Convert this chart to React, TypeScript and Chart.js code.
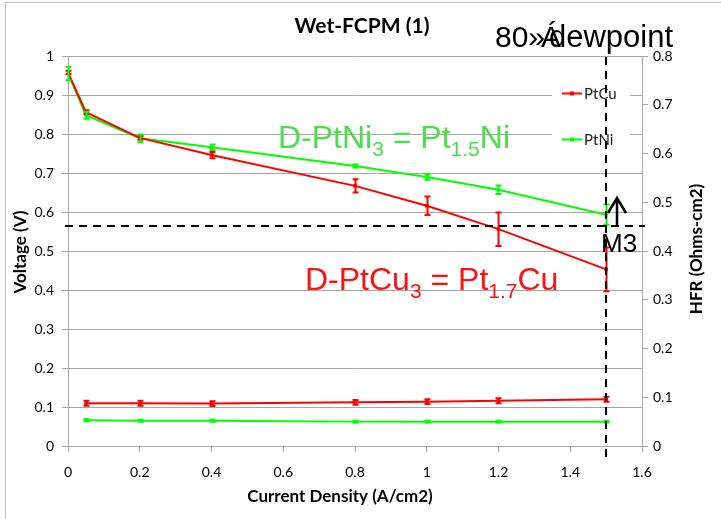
import React, { useEffect, useRef } from "react";
import { Chart, registerables } from "chart.js";
Chart.register(...registerables);

const W = 721;
const H = 519;

// Polarization data (Voltage, left axis)
const currentDensity = [0, 0.05, 0.2, 0.4, 0.8, 1.0, 1.2, 1.5];
const ptcuVoltage = [0.958, 0.856, 0.79, 0.746, 0.667, 0.616, 0.556, 0.453];
const ptcuVoltageErr = [0.004, 0.005, 0.005, 0.008, 0.017, 0.024, 0.043, 0.056];
const ptniVoltage = [0.955, 0.848, 0.789, 0.766, 0.718, 0.69, 0.657, 0.593];
const ptniVoltageErr = [0.017, 0.009, 0.01, 0.007, 0.004, 0.007, 0.011, 0.026];

// HFR data (right axis)
const hfrCurrent = [0.05, 0.2, 0.4, 0.8, 1.0, 1.2, 1.5];
const ptcuHfr = [0.0876, 0.0876, 0.087, 0.0895, 0.091, 0.0928, 0.0958];
const ptcuHfrErr = [0.005, 0.005, 0.005, 0.005, 0.005, 0.005, 0.005];
const ptniHfr = [0.053, 0.052, 0.052, 0.05, 0.05, 0.05, 0.05];
const ptniHfrErr = [0.002, 0.002, 0.002, 0.002, 0.002, 0.002, 0.002];

// Reference markers
const markerVoltage = 0.564;
const markerCurrent = 1.5;

const seriesNames = ["PtCu", "PtNi"];
const RED = "#ff0000";
const GREEN = "#00ff00";
const GRID = "#a6a6a6";

const CAL = "Lato, 'Open Sans', sans-serif";
const ARIAL = "'Liberation Sans', Arial, sans-serif";

function fmt(v: number) {
  return String(Math.round(v * 10) / 10);
}

function drawSubText(ctx: CanvasRenderingContext2D, parts: [string, boolean][], x: number, y: number, big: number, small: number, color: string) {
  ctx.save();
  ctx.fillStyle = color;
  ctx.textBaseline = "alphabetic";
  ctx.textAlign = "left";
  let cx = x;
  for (const [t, sub] of parts) {
    ctx.font = `${sub ? small : big}px ${ARIAL}`;
    ctx.fillText(t, cx, sub ? y + 8 : y);
    cx += ctx.measureText(t).width;
  }
  ctx.restore();
}

export default function App() {
  const ref = useRef<HTMLCanvasElement>(null);

  useEffect(() => {
    const canvas = ref.current!;
    const pts = (xs: number[], ys: number[]) => xs.map((x, i) => ({ x, y: ys[i] }));
    const errs = [ptcuVoltageErr, ptniVoltageErr, ptcuHfrErr, ptniHfrErr];

    const overlay = {
      id: "overlay",
      beforeDatasetsDraw(chart: any) {
        const ctx = chart.ctx as CanvasRenderingContext2D;
        ctx.save();
        // legend
        ctx.fillStyle = "#fff";
        ctx.fillRect(552, 80, 78, 72);
        const rows = [
          { name: seriesNames[0], color: RED, y: 93.5 },
          { name: seriesNames[1], color: GREEN, y: 139.5 },
        ];
        for (const r of rows) {
          ctx.strokeStyle = r.color;
          ctx.lineWidth = 2;
          ctx.beginPath();
          ctx.moveTo(562, r.y);
          ctx.lineTo(582, r.y);
          ctx.stroke();
          ctx.fillStyle = r.color;
          ctx.fillRect(570, r.y - 2, 4, 4);
          ctx.fillStyle = "#222";
          ctx.font = `15px ${CAL}`;
          ctx.textBaseline = "middle";
          ctx.fillText(r.name, 584, r.y + 1);
        }
        ctx.restore();
      },
      afterDatasetsDraw(chart: any) {
        const ctx = chart.ctx as CanvasRenderingContext2D;
        ctx.save();
        chart.data.datasets.forEach((ds: any, i: number) => {
          const meta = chart.getDatasetMeta(i);
          const xs = chart.scales.x;
          const ys = chart.scales[meta.yAxisID];
          ctx.strokeStyle = ds.borderColor;
          ctx.lineWidth = 2;
          ds.data.forEach((p: any, j: number) => {
            const e = errs[i][j];
            const px = Math.round(xs.getPixelForValue(p.x)) + 0.5;
            const y1 = ys.getPixelForValue(p.y + e);
            const y2 = ys.getPixelForValue(p.y - e);
            ctx.beginPath();
            ctx.moveTo(px, y1);
            ctx.lineTo(px, y2);
            ctx.moveTo(px - 3, y1);
            ctx.lineTo(px + 3, y1);
            ctx.moveTo(px - 3, y2);
            ctx.lineTo(px + 3, y2);
            ctx.stroke();
          });
        });
        ctx.restore();
      },
      afterDraw(chart: any) {
        const ctx = chart.ctx as CanvasRenderingContext2D;
        const xs = chart.scales.x;
        const ys = chart.scales.y;
        const area = chart.chartArea;
        ctx.save();
        // outer border (top/left)
        ctx.strokeStyle = "#c0c0c0";
        ctx.lineWidth = 1;
        ctx.beginPath();
        ctx.moveTo(5.5, H);
        ctx.lineTo(5.5, 2.5);
        ctx.lineTo(W, 2.5);
        ctx.stroke();

        // dashed reference lines
        ctx.strokeStyle = "#000";
        ctx.lineWidth = 2;
        ctx.setLineDash([8, 6]);
        const hy = Math.round(ys.getPixelForValue(markerVoltage));
        ctx.beginPath();
        ctx.moveTo(xs.getPixelForValue(0) - 3, hy);
        ctx.lineTo(xs.getPixelForValue(1.6) + 3, hy);
        ctx.stroke();
        const vx = Math.round(xs.getPixelForValue(markerCurrent));
        ctx.beginPath();
        ctx.moveTo(vx, area.top + 1);
        ctx.lineTo(vx, area.bottom + 12);
        ctx.stroke();
        ctx.setLineDash([]);

        // arrow + M3
        ctx.lineWidth = 2.5;
        ctx.beginPath();
        ctx.moveTo(617, 227);
        ctx.lineTo(617, 198);
        ctx.moveTo(608, 213);
        ctx.lineTo(617, 198);
        ctx.lineTo(626, 213);
        ctx.stroke();
        ctx.fillStyle = "#000";
        ctx.font = `26px ${ARIAL}`;
        ctx.textBaseline = "alphabetic";
        ctx.fillText("M3", 601, 252);

        // dewpoint label
        ctx.font = `30px ${ARIAL}`;
        ctx.fillText("80»", 495, 47);
        ctx.fillText("Á", 541, 47);
        ctx.font = `31px ${ARIAL}`;
        ctx.fillText("dewpoint", 549, 47);

        // composition labels
        drawSubText(ctx, [["D-PtNi", false], ["3", true], [" = Pt", false], ["1.5", true], ["Ni", false]], 278, 148, 32, 21, "#4ade4a");
        drawSubText(ctx, [["D-PtCu", false], ["3", true], [" = Pt", false], ["1.7", true], ["Cu", false]], 305, 290, 32, 21, "#ff1010");

        // titles
        ctx.fillStyle = "#000";
        ctx.textAlign = "center";
        ctx.textBaseline = "middle";
        ctx.font = `bold 21px ${CAL}`;
        ctx.fillText("Wet-FCPM (1)", 362, 26);
        ctx.font = `bold 17px ${CAL}`;
        ctx.fillText("Current Density (A/cm2)", 340, 497);
        ctx.save();
        ctx.translate(21, 252);
        ctx.rotate(-Math.PI / 2);
        ctx.fillText("Voltage (V)", 0, 0);
        ctx.restore();
        ctx.save();
        ctx.translate(697, 249);
        ctx.rotate(-Math.PI / 2);
        ctx.font = `bold 17px ${CAL}`;
        ctx.fillText("HFR (Ohms-cm2)", 0, 0);
        ctx.restore();
        ctx.restore();
      },
    };

    const lineDs = (label: string, data: any, color: string, axis: string) => ({
      label,
      data,
      yAxisID: axis,
      borderColor: color,
      backgroundColor: color,
      borderWidth: 2,
      pointStyle: "rect",
      pointRadius: 2.5,
      pointBorderWidth: 0,
      pointBackgroundColor: color,
      tension: 0,
      fill: false,
    });

    const tickFont = { family: CAL, size: 14 };

    const chart = new Chart(canvas, {
      type: "line",
      data: {
        datasets: [
          lineDs(seriesNames[0], pts(currentDensity, ptcuVoltage), RED, "y"),
          lineDs(seriesNames[1], pts(currentDensity, ptniVoltage), GREEN, "y"),
          lineDs(seriesNames[0] + " HFR", pts(hfrCurrent, ptcuHfr), RED, "y2"),
          lineDs(seriesNames[1] + " HFR", pts(hfrCurrent, ptniHfr), GREEN, "y2"),
        ],
      },
      options: {
        responsive: false,
        animation: false,
        devicePixelRatio: 1,
        layout: { padding: { top: 56, left: 0, right: 0, bottom: 0 } },
        plugins: { legend: { display: false }, title: { display: false }, tooltip: { enabled: false } },
        scales: {
          x: {
            type: "linear",
            min: 0,
            max: 1.6,
            ticks: { stepSize: 0.2, callback: (v: any) => fmt(v), font: tickFont, color: "#000", padding: 12, maxRotation: 0 },
            grid: { drawOnChartArea: false, tickLength: 6, color: GRID },
            border: { color: GRID },
            afterFit: (s: any) => { s.height = 73; },
          },
          y: {
            type: "linear",
            position: "left",
            min: 0,
            max: 1,
            ticks: { stepSize: 0.1, callback: (v: any) => fmt(v), font: tickFont, color: "#000", padding: 8 },
            grid: { color: GRID, tickLength: 6 },
            border: { color: GRID },
            afterFit: (s: any) => { s.width = 68; },
          },
          y2: {
            type: "linear",
            position: "right",
            min: 0,
            max: 0.8,
            ticks: { stepSize: 0.1, callback: (v: any) => fmt(v), font: tickFont, color: "#000", padding: 5 },
            grid: { drawOnChartArea: false, color: GRID, tickLength: 6 },
            border: { color: GRID },
            afterFit: (s: any) => { s.width = 79; },
          },
        },
      } as any,
      plugins: [overlay],
    });
    return () => chart.destroy();
  }, []);

  return (
    <div style={{ position: "fixed", left: 0, top: 0, width: W, height: H, background: "#fff" }}>
      <canvas ref={ref} width={W} height={H} style={{ width: W, height: H, display: "block" }} />
    </div>
  );
}
